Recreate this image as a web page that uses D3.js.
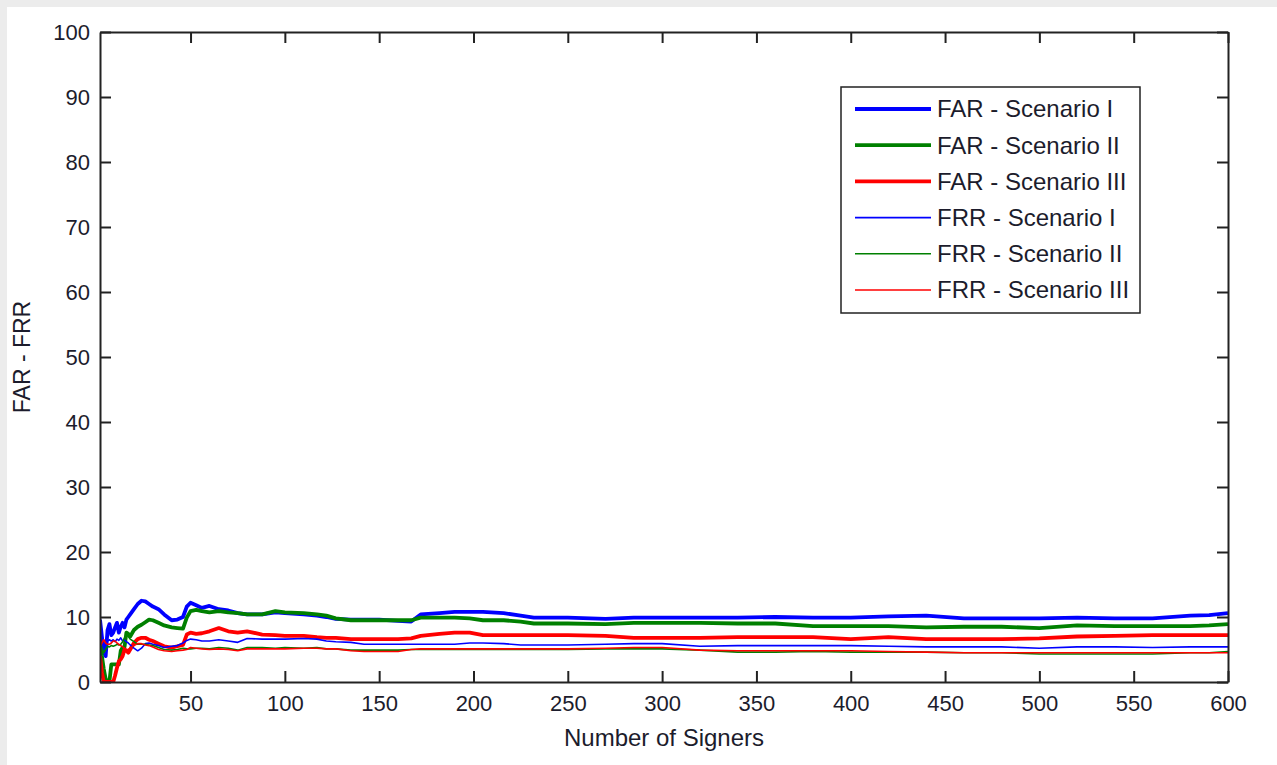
<!DOCTYPE html>
<html>
<head>
<meta charset="utf-8">
<script src="https://cdn.jsdelivr.net/npm/d3@7"></script>
<style>
  body { margin: 0; background: #fff; }
  svg { display: block; font-family: "Liberation Sans", Arial, sans-serif; }
</style>
</head>
<body>
<svg></svg>
<script>
const width = 1277;
const height = 765;

const signers = [
  2, 3, 4, 5, 6, 7, 8, 9, 10, 11,
  12, 13, 14, 15, 16, 17, 18, 20, 22, 24,
  26, 28, 30, 33, 36, 40, 43, 46, 48, 50,
  53, 56, 60, 65, 70, 75, 80, 88, 95, 100,
  110, 117, 122, 127, 135, 142, 150, 160, 167, 172,
  182, 190, 198, 205, 216, 225, 232, 250, 270, 285,
  300, 320, 340, 360, 380, 400, 420, 440, 460, 480,
  500, 520, 540, 560, 580, 590, 600
];

const farScenario1 = [
  9.6, 7.0, 4.5, 4.0, 8.0, 8.9, 7.2, 7.6, 8.4, 9.1,
  7.6, 8.5, 9.1, 8.4, 9.6, 10.0, 10.4, 11.2, 12.0, 12.5,
  12.4, 12.0, 11.6, 11.2, 10.4, 9.5, 9.6, 10.0, 11.6, 12.2,
  11.8, 11.4, 11.7, 11.2, 11.0, 10.6, 10.4, 10.4, 10.7, 10.6,
  10.4, 10.2, 10.0, 9.7, 9.6, 9.6, 9.6, 9.4, 9.3, 10.4,
  10.6, 10.8, 10.8, 10.8, 10.6, 10.2, 9.9, 9.9, 9.7, 9.9,
  9.9, 9.9, 9.9, 10.0, 9.9, 9.9, 10.1, 10.2, 9.8, 9.8,
  9.8, 9.9, 9.8, 9.8, 10.2, 10.3, 10.6
];

const farScenario2 = [
  6.8, 4.0, 2.0, 0.5, 0.1, 0.1, 2.7, 2.7, 2.7, 2.7,
  2.7, 4.8, 5.3, 5.4, 7.6, 7.4, 7.0, 8.0, 8.5, 8.8,
  9.2, 9.6, 9.5, 9.1, 8.7, 8.4, 8.3, 8.2, 9.9, 10.9,
  11.1, 10.9, 10.7, 10.9, 10.7, 10.6, 10.4, 10.4, 10.9, 10.7,
  10.6, 10.4, 10.2, 9.8, 9.5, 9.5, 9.5, 9.5, 9.5, 9.9,
  9.9, 9.9, 9.8, 9.5, 9.5, 9.3, 9.0, 9.0, 8.9, 9.1,
  9.1, 9.1, 9.0, 9.0, 8.6, 8.6, 8.6, 8.4, 8.5, 8.5,
  8.3, 8.7, 8.6, 8.6, 8.6, 8.7, 8.9
];

const farScenario3 = [
  4.0, 1.5, 0, 0, 0, 0, 0, 0, 1.0, 2.2,
  3.2, 3.5, 4.0, 5.0, 4.8, 4.5, 5.0, 6.0, 6.6, 6.8,
  6.8, 6.5, 6.3, 5.9, 5.5, 5.3, 5.5, 5.7, 7.3, 7.6,
  7.4, 7.5, 7.8, 8.3, 7.8, 7.6, 7.8, 7.3, 7.2, 7.1,
  7.1, 6.9, 6.8, 6.8, 6.6, 6.6, 6.6, 6.6, 6.7, 7.1,
  7.4, 7.6, 7.6, 7.2, 7.2, 7.2, 7.2, 7.2, 7.1, 6.8,
  6.8, 6.8, 6.9, 6.9, 6.9, 6.6, 6.9, 6.6, 6.6, 6.6,
  6.7, 7.0, 7.1, 7.2, 7.2, 7.2, 7.2
];

const frrScenario1 = [
  9.0, 6.0, 5.0, 6.5, 6.3, 6.5, 6.3, 6.5, 6.2, 6.6,
  6.4, 6.8, 6.3, 6.5, 6.2, 6.0, 5.7, 5.2, 4.8, 5.2,
  5.9, 6.0, 5.8, 5.6, 5.3, 5.5, 5.6, 6.0, 6.4, 6.6,
  6.5, 6.3, 6.3, 6.5, 6.3, 6.1, 6.7, 6.6, 6.6, 6.6,
  6.7, 6.6, 6.3, 6.2, 6.1, 5.8, 5.8, 5.8, 5.8, 5.8,
  5.8, 5.8, 6.0, 6.0, 5.9, 5.7, 5.7, 5.7, 5.8, 5.9,
  5.9, 5.5, 5.6, 5.6, 5.6, 5.6, 5.5, 5.4, 5.4, 5.4,
  5.2, 5.4, 5.4, 5.3, 5.4, 5.4, 5.4
];

const frrScenario2 = [
  6.5, 5.2, 4.5, 5.0, 5.5, 5.4, 5.6, 5.5, 5.6, 5.8,
  5.7, 5.8, 6.2, 6.8, 7.3, 7.0, 6.6, 6.2, 5.8, 5.8,
  5.8, 5.7, 5.6, 5.3, 5.0, 4.9, 5.0, 5.2, 5.1, 5.1,
  5.2, 5.2, 5.1, 5.3, 5.2, 4.9, 5.3, 5.3, 5.2, 5.3,
  5.2, 5.3, 5.1, 5.1, 4.9, 4.9, 4.9, 4.9, 5.0, 5.0,
  5.0, 5.0, 5.0, 5.0, 5.0, 5.0, 5.0, 5.0, 5.1, 5.1,
  5.1, 4.9, 4.6, 4.6, 4.7, 4.6, 4.6, 4.6, 4.5, 4.5,
  4.3, 4.3, 4.3, 4.3, 4.5, 4.5, 4.7
];

const frrScenario3 = [
  5.5, 6.0, 6.5, 6.0, 5.8, 5.8, 6.0, 6.3, 6.3, 6.0,
  5.8, 5.6, 5.4, 5.2, 5.0, 5.0, 5.2, 5.6, 5.9, 5.9,
  5.7, 5.6, 5.4, 5.0, 4.8, 4.7, 4.8, 4.9, 5.0, 5.3,
  5.2, 5.1, 5.0, 5.1, 5.0, 4.8, 5.1, 5.1, 5.1, 5.1,
  5.2, 5.2, 5.1, 5.1, 4.8, 4.7, 4.7, 4.7, 5.0, 5.1,
  5.1, 5.1, 5.1, 5.1, 5.1, 5.1, 5.1, 5.1, 5.2, 5.3,
  5.3, 4.9, 4.8, 4.8, 4.8, 4.8, 4.7, 4.6, 4.5, 4.5,
  4.5, 4.5, 4.5, 4.5, 4.5, 4.5, 4.5
];

const seriesNames = [
  "FAR - Scenario I", "FAR - Scenario II", "FAR - Scenario III",
  "FRR - Scenario I", "FRR - Scenario II", "FRR - Scenario III"
];
const seriesValues = [farScenario1, farScenario2, farScenario3, frrScenario1, frrScenario2, frrScenario3];
const seriesColors = ["#0000ff", "#008000", "#ff0000", "#0000ff", "#008000", "#ff0000"];
const seriesWidths = [3.8, 3.8, 3.8, 1.6, 1.6, 1.6];

const xTicks = d3.range(50, 601, 50);
const yTicks = d3.range(0, 101, 10);

const margin = { top: 32, right: 49, bottom: 83, left: 100 };

const svg = d3.select("svg")
  .attr("width", width)
  .attr("height", height);

// light grey frame of the screenshot
svg.append("rect").attr("x", 0).attr("y", 0).attr("width", width).attr("height", 7).attr("fill", "#ececec");
svg.append("rect").attr("x", 0).attr("y", 0).attr("width", 7).attr("height", height).attr("fill", "#ececec");

const x = d3.scaleLinear()
  .domain([2, 600])
  .range([margin.left, width - margin.right]);

const y = d3.scaleLinear()
  .domain([0, 100])
  .range([height - margin.bottom, margin.top]);

svg.append("clipPath").attr("id", "plot-clip")
  .append("rect")
  .attr("x", margin.left)
  .attr("y", margin.top)
  .attr("width", width - margin.left - margin.right)
  .attr("height", height - margin.top - margin.bottom);

const line = d3.line()
  .x((d, i) => x(signers[i]))
  .y(d => y(d));

svg.append("g")
  .attr("clip-path", "url(#plot-clip)")
  .selectAll("path")
  .data(seriesValues)
  .join("path")
  .attr("fill", "none")
  .attr("stroke", (d, i) => seriesColors[i])
  .attr("stroke-width", (d, i) => seriesWidths[i])
  .attr("stroke-linejoin", "round")
  .attr("d", line);

function styleAxis(g) {
  g.select(".domain").attr("stroke", "#222").attr("stroke-width", 2);
  g.selectAll(".tick line").attr("stroke", "#222").attr("stroke-width", 2);
  g.selectAll(".tick text")
    .attr("fill", "#1c1c2c")
    .attr("font-size", 22)
    .attr("font-family", "'Liberation Sans', Arial, sans-serif");
}

svg.append("g")
  .attr("transform", `translate(0,${height - margin.bottom})`)
  .call(d3.axisBottom(x).tickValues(xTicks).tickSize(-11).tickSizeOuter(0).tickPadding(13))
  .call(styleAxis);

svg.append("g")
  .attr("transform", `translate(0,${margin.top})`)
  .call(d3.axisTop(x).tickValues(xTicks).tickSize(-11).tickSizeOuter(0).tickFormat(""))
  .call(styleAxis);

svg.append("g")
  .attr("transform", `translate(${margin.left},0)`)
  .call(d3.axisLeft(y).tickValues(yTicks).tickSize(-11).tickSizeOuter(0).tickPadding(10))
  .call(styleAxis);

svg.append("g")
  .attr("transform", `translate(${width - margin.right},0)`)
  .call(d3.axisRight(y).tickValues(yTicks).tickSize(-11).tickSizeOuter(0).tickFormat(""))
  .call(styleAxis);

svg.append("text")
  .attr("x", (margin.left + width - margin.right) / 2)
  .attr("y", 746)
  .attr("text-anchor", "middle")
  .attr("font-size", 24)
  .attr("fill", "#1c1c2c")
  .text("Number of Signers");

svg.append("text")
  .attr("transform", `translate(30,${(margin.top + height - margin.bottom) / 2}) rotate(-90)`)
  .attr("text-anchor", "middle")
  .attr("font-size", 23)
  .attr("fill", "#1c1c2c")
  .text("FAR - FRR");

const legend = svg.append("g").attr("transform", "translate(841,87)");

legend.append("rect")
  .attr("width", 299)
  .attr("height", 226)
  .attr("fill", "#fff")
  .attr("stroke", "#222")
  .attr("stroke-width", 1.5);

const legendItem = legend.selectAll("g.item")
  .data(seriesNames)
  .join("g")
  .attr("class", "item")
  .attr("transform", (d, i) => `translate(0,${22 + i * 36.2})`);

legendItem.append("line")
  .attr("x1", 14)
  .attr("x2", 90)
  .attr("stroke", (d, i) => seriesColors[i])
  .attr("stroke-width", (d, i) => seriesWidths[i]);

legendItem.append("text")
  .attr("x", 96)
  .attr("dy", "0.35em")
  .attr("font-size", 24)
  .attr("fill", "#1c1c2c")
  .text(d => d);
</script>
</body>
</html>
